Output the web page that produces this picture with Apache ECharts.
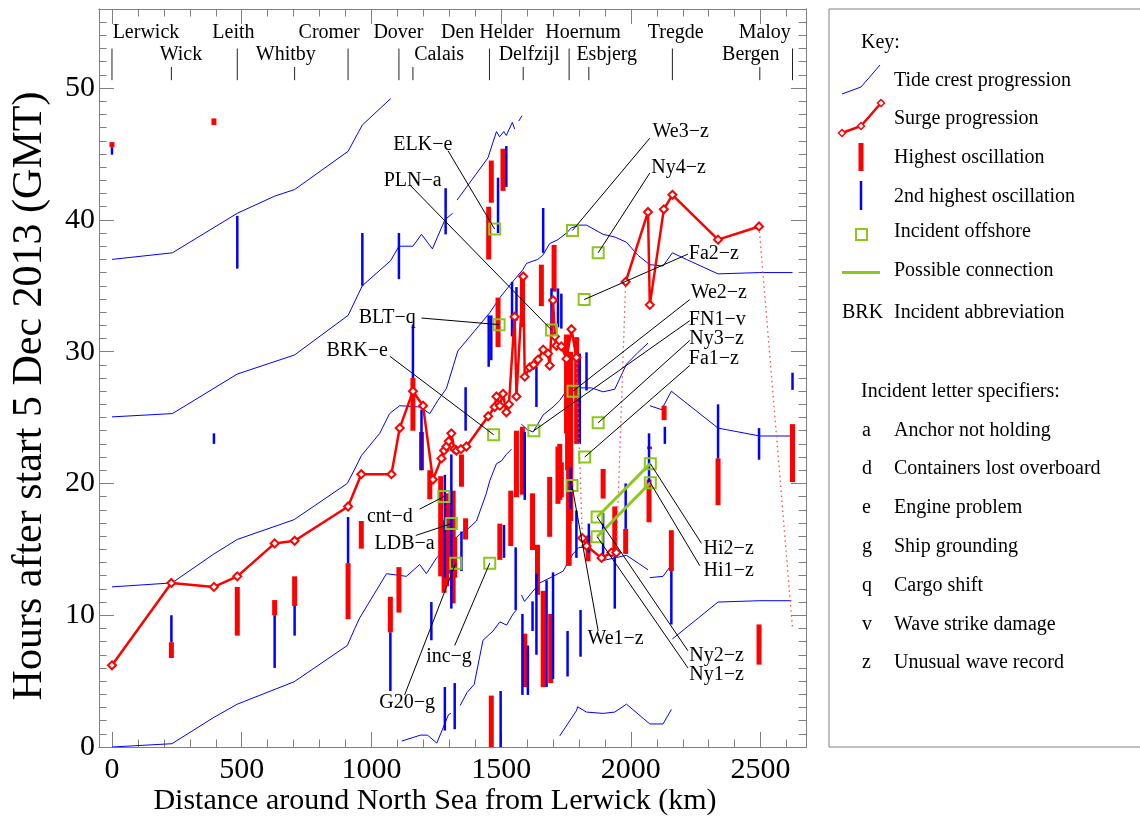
<!DOCTYPE html>
<html><head><meta charset="utf-8">
<script src="https://cdn.jsdelivr.net/npm/echarts@6/dist/echarts.min.js"></script>
<style>html,body{margin:0;padding:0;background:#fff}#c{width:1140px;height:822px}</style>
</head><body><div id="c"></div>
<script>
// ---------- axis tick labels ----------
const xTickLabels = [0, 500, 1000, 1500, 2000, 2500];
const yTickLabels = [0, 10, 20, 30, 40, 50];

// ---------- stations (km along coast) ----------
const stationNames   = ['Lerwick','Wick','Leith','Whitby','Cromer','Dover','Calais','Den Helder','Delfzijl','Hoernum','Esbjerg','Tregde','Bergen','Maloy'];
const stationKm      = [0,229,483,704,910,1106,1160,1455,1585,1762,1838,2160,2497,2623];
const stationRow     = [1,2,1,2,1,1,2,1,2,1,2,1,2,1];
const stationLabelKm = [131,266,468,670,837,1104,1261,1447,1608,1816,1907,2173,2462,2516];

// ---------- tide crest progression segments [km, hours] ----------
const tideT1  = [[0,37.0],[233,37.5],[483,40.5],[627,41.8],[704,42.3],[910,45.2],[965,47.2],[1074,49.2]];
const tideT2a = [[0,25.05],[233,25.3],[483,28.3],[704,29.75],[910,32.75],[965,35.0],[1074,36.9],[1106,38.0],[1160,38.0],[1193,38.9],[1235,37.8],[1283,40.0],[1313,40.5]];
const tideT2b = [[1330,41.5],[1449,44.7],[1482,46.7],[1494,46.3],[1510,46.7],[1520,46.4],[1543,47.4],[1552,46.9]];
const tideT2c = [[1568,47.5],[1580,47.9]];
const tideT3  = [[0,12.15],[231,12.45],[393,14.65],[483,15.75],[702,17.25],[907,20.0],[936,21.1],[961,22.1],[1032,23.8],[1070,25.3],[1109,25.9],[1186,25.8],[1225,25.3],[1256,26.3],[1289,27.2],[1333,30.05],[1456,32.95],[1495,34.1],[1540,35.2],[1583,36.2],[1598,36.7],[1641,37.0],[1660,37.3],[1687,38.2],[1719,38.5],[1752,39.0],[1771,39.4],[1803,39.6],[1829,39.6],[1893,38.9],[1938,38.7],[1983,38.3],[2028,37.3],[2073,36.6],[2124,36.5],[2160,37.5],[2214,37.0],[2336,35.9],[2497,36.0],[2623,36.0]];
const tideT4a = [[0,0],[231,0.25],[393,2.25],[483,3.25],[702,4.95],[907,7.7],[936,9.0],[955,9.8],[1058,13.15],[1135,12.95],[1186,13.85],[1212,13.15],[1251,14.35],[1289,15.05],[1340,16.15],[1372,16.55],[1405,17.15],[1443,19.25],[1456,20.2],[1482,21.5],[1501,21.7],[1520,22.2],[1540,22.6]];
const tideT4b = [[1578,24.5],[1600,24.1],[1623,23.9],[1662,25.2],[1700,25.8],[1726,26.3],[1752,27.05],[1777,27.25],[1848,27.25],[1893,26.95],[1938,27.15],[1983,29.05],[2028,29.95],[2066,30.65]];
const tideT4c = [[2073,25.9],[2118,25.6],[2156,27.0],[2336,24.2],[2497,23.6],[2619,23.6]];
const tideT5a = [[1117,0.45],[1189,0.9],[1216,0.9],[1252,0.3],[1297,2.45],[1306,2.55]];
const tideT5b = [[1342,3.15],[1369,4.15],[1396,4.75],[1430,8.1],[1469,8.8],[1495,9.5],[1521,9.25],[1546,10.1],[1559,10.4]];
const tideT5c = [[1578,11.55],[1590,11.05],[1649,12.45],[1700,12.95],[1739,13.35],[1777,14.65],[1800,15.15],[1842,15.15],[1893,14.15],[1938,14.35],[1983,14.55],[2066,13.45]];
const tideT5d = [[2073,12.85],[2124,12.95],[2150,13.65]];
const tideT5e = [[2160,8.2],[2336,11.0],[2497,11.1],[2619,11.1]];
const tideT6  = [[1726,0.85],[1790,2.75],[1795,3.05],[1829,2.65],[1893,2.55],[1938,2.65],[1983,3.25],[2073,1.75],[2124,1.75],[2156,2.85]];
const tideSegments = [tideT1,tideT2a,tideT2b,tideT2c,tideT3,tideT4a,tideT4b,tideT4c,tideT5a,tideT5b,tideT5c,tideT5d,tideT5e,tideT6];

// ---------- surge progression ----------
const surgeS1 = [[0,6.2],[229,12.45],[393,12.15],[483,12.95],[627,15.45],[704,15.65],[910,18.25],[961,20.7],[1077,20.7],[1109,24.2],[1160,27.0],[1199,25.9],[1237,20.3],[1270,21.9],[1280,22.5],[1289,22.8],[1298,23.2],[1308,23.8],[1320,22.6],[1328,22.5],[1345,22.6],[1366,22.8],[1450,25.1],[1475,25.8],[1482,26.6],[1495,25.9],[1507,26.8],[1520,25.4],[1530,26.0],[1552,32.65],[1559,26.6],[1585,35.7],[1591,28.1],[1610,28.8],[1625,29.0],[1642,29.4],[1662,30.15],[1681,29.85],[1687,28.95],[1700,33.9],[1707,31.15],[1713,30.45],[1732,30.4],[1752,29.45],[1771,31.7],[1790,29.55]];
const surgeS2 = [[1813,15.85],[1829,15.25],[1887,14.35],[1925,14.75],[1944,14.75]];
const surgeS3 = [[1980,35.3],[2066,40.6],[2073,33.55],[2127,40.8],[2160,41.9],[2336,38.5],[2494,39.5]];
const surgeGaps = [[[1790,29.55],[1813,15.85]],[[1944,14.75],[1980,35.3]],[[2494,39.5],[2623,9.0]]];

// ---------- oscillations [km, hour from, hour to] ----------
const highestOsc = [[0,45.5,45.9],[229,6.75,7.95],[393,47.2,47.7],[483,8.45,12.15],[627,10.0,11.15],[704,10.7,12.95],[910,9.7,13.95],[961,15.05,17.15],[1073,8.7,11.4],[1106,10.2,13.65],[1160,24.0,28.0],[1193,21.0,23.9],[1225,18.8,21.0],[1267,12.95,20.55],[1280,11.7,17.2],[1290,12.2,18.6],[1295,13.15,19.25],[1315,10.9,19.45],[1321,12.85,15.95],[1347,19.75,22.2],[1363,15.75,17.35],[1452,37.0,41.0],[1462,41.3,44.5],[1507,42.2,45.4],[1488,30.35,34.1],[1582,31.85,35.8],[1655,33.45,36.6],[1704,34.55,38.1],[1495,14.2,16.95],[1537,15.25,19.45],[1559,18.95,24.0],[1582,19.15,24.3],[1591,4.55,8.6],[1621,14.95,19.25],[1640,11.55,15.35],[1662,4.55,11.85],[1687,15.95,20.5],[1691,4.85,10.1],[1719,18.45,22.8],[1726,18.75,23.0],[1732,18.95,21.6],[1752,23.8,31.3],[1756,21.0,26.3],[1760,13.8,26.3],[1762,13.75,19.25],[1768,17.15,30.0],[1791,23.0,31.1],[1835,14.1,16.05],[1462,0,3.9],[1893,18.85,21.1],[1938,14.75,18.25],[1980,14.65,16.55],[2070,17.05,20.3],[2072,22.6,22.8],[2128,24.8,25.9],[2156,13.35,16.45],[2336,18.35,21.9],[2494,6.25,9.3],[2623,20.1,24.5]];
const secondOsc = [[0,44.95,45.5],[229,7.95,10.0],[393,23.0,23.8],[483,36.3,40.3],[627,6.0,10.0],[704,8.45,10.7],[910,13.95,17.45],[965,35.0,39.0],[1073,4.25,8.7],[1106,35.5,39.0],[1160,28.0,32.05],[1193,21.0,25.6],[1231,8.1,11.0],[1283,12.85,20.65],[1286,38.9,42.4],[1308,10.5,22.2],[1347,13.35,16.35],[1363,24.0,27.3],[1452,28.85,32.75],[1462,29.35,32.75],[1488,39.0,43.2],[1520,42.5,45.6],[1542,31.15,35.3],[1559,32.35,34.9],[1636,25.8,28.85],[1662,37.5,40.9],[1694,31.15,34.8],[1719,31.85,34.8],[1732,31.75,34.4],[1803,23.0,29.85],[1829,27.05,29.95],[1511,14.35,16.85],[1556,10.4,15.15],[1582,3.95,10.1],[1591,18.75,23.9],[1603,3.95,7.7],[1621,8.8,11.05],[1636,7.0,13.15],[1675,4.55,12.65],[1700,5.15,13.25],[1756,5.35,8.8],[1768,18.05,21.2],[1790,14.35,17.95],[1806,6.85,10.4],[1838,14.75,16.95],[1893,14.25,17.75],[1938,10.5,14.75],[1980,16.55,20.0],[2070,20.0,23.8],[2131,23.0,24.3],[2156,9.3,13.35],[2336,21.9,26.0],[2494,21.8,24.2],[2623,27.1,28.4],[1283,1.25,4.55],[1321,1.35,4.85],[1498,0,4.25]];

// ---------- incidents ----------
const incNames = ['ELK−e','PLN−a','BLT−q','BRK−e','We3−z','Ny4−z','Fa2−z','We2−z','FN1−v','Ny3−z','Fa1−z','cnt−d','LDB−a','G20−g','inc−g','We1−z','Ny2−z','Ny1−z','Hi2−z','Hi1−z'];
const incSites = [[1475,39.3],[1694,31.65],[1492,32.05],[1471,23.7],[1775,39.2],[1874,37.5],[1820,33.95],[1777,27.0],[1626,24.0],[1874,24.6],[1822,22.0],[1279,19.0],[1308,16.95],[1325,13.95],[1456,13.95],[1773,19.85],[1870,17.45],[1870,15.95],[2075,21.5],[2075,20.05]];
const incLabelAt = [[1198,45.7],[1159,42.95],[1061,32.55],[945,30.05],[2192,46.7],[2184,43.95],[2320,37.4],[2339,34.45],[2333,32.45],[2330,30.95],[2320,29.45],[1071,17.45],[1128,15.45],[1138,3.35],[1299,6.85],[1941,8.2],[2330,6.9],[2330,5.45],[2377,15.05],[2377,13.35]];
const incLeadFrom = [[1295,45.25],[1148,42.65],[1193,32.55],[1071,29.65],[2073,46.2],[2073,43.55],[2220,37.4],[2227,33.95],[2227,32.35],[2227,30.85],[2227,28.95],[1186,18.05],[1171,16.05],[1128,3.95],[1321,7.7],[1874,8.8],[2220,7.3],[2220,6.0],[2272,15.45],[2266,13.75]];
const connections = [[1870,17.45,2075,21.5],[1870,15.95,2075,20.05]];

// ---------- texts ----------
const xTitle = 'Distance around North Sea from Lerwick (km)';
const yTitle = 'Hours after start 5 Dec 2013 (GMT)';
const keyItems = ['Tide crest progression','Surge progression','Highest oscillation','2nd highest oscillation','Incident offshore','Possible connection','Incident abbreviation'];
const specLetters = ['a','d','e','g','q','v','z'];
const specTexts = ['Anchor not holding','Containers lost overboard','Engine problem','Ship grounding','Cargo shift','Wave strike damage','Unusual wave record'];

// ================= build =================
const F = '"Liberation Serif","Times New Roman",serif';
const GF = '"Liberation Serif"';
const AX = '#808080';
const BLUE = '#0000ff', RED = '#ff0000', GREEN = '#8cc81a';
const X_MIN = -50, X_MAX = 2675, Y_MIN = 0, Y_MAX = 56;

const xMinor = []; for (let v = 0; v <= 2600; v += 100) if (v % 500) xMinor.push(v);
const yMinor = []; for (let v = 1; v <= 56; v++) if (v % 10) yMinor.push(v);

function xAx(pos, major, withLabel) {
  return {
    type:'value', min:X_MIN, max:X_MAX, position:pos,
    axisLine:{show:true, onZero:false, lineStyle:{color:AX, width:1}},
    axisTick:{show:true, inside:true, length: major ? 15 : 7.5, customValues: major ? xTickLabels : xMinor, lineStyle:{color:AX, width:1}},
    axisLabel:{show:!!withLabel, customValues:xTickLabels, formatter:v => String(v), fontSize:30, fontFamily:F, color:'#000', margin:8},
    splitLine:{show:false}
  };
}
function yAx(pos, major, withLabel) {
  return {
    type:'value', min:Y_MIN, max:Y_MAX, position:pos,
    axisLine:{show:true, onZero:false, lineStyle:{color:AX, width:1}},
    axisTick:{show:true, inside:true, length: major ? 15 : 7.5, customValues: major ? yTickLabels : yMinor, lineStyle:{color:AX, width:1}},
    axisLabel:{show:!!withLabel, customValues:yTickLabels, formatter:v => String(v), fontSize:30, fontFamily:F, color:'#000', margin:4},
    splitLine:{show:false}
  };
}

function vbar(color, width) {
  return function (params, api) {
    const a = api.coord([api.value(0), api.value(1)]);
    const b = api.coord([api.value(0), api.value(2)]);
    return {type:'line', shape:{x1:a[0], y1:a[1], x2:b[0], y2:b[1]}, style:{stroke:color, lineWidth:width}};
  };
}
function seg(color, width) {
  return function (params, api) {
    const a = api.coord([api.value(0), api.value(1)]);
    const b = api.coord([api.value(2), api.value(3)]);
    return {type:'line', shape:{x1:a[0], y1:a[1], x2:b[0], y2:b[1]}, style:{stroke:color, lineWidth:width}};
  };
}
const LBL = {show:true, position:'inside', formatter:'{b}', fontSize:20, fontFamily:F, color:'#000', opacity:1, textBorderWidth:0, textBorderColor:'transparent'};

const series = [];
tideSegments.forEach(s => series.push({type:'line', data:s, showSymbol:false, symbol:'none', lineStyle:{color:BLUE, width:1}, silent:true, z:2}));
series.push({type:'custom', renderItem:vbar(RED,5), data:highestOsc, encode:{x:0, y:[1,2]}, silent:true, z:3});
series.push({type:'custom', renderItem:vbar(BLUE,2.5), data:secondOsc, encode:{x:0, y:[1,2]}, silent:true, z:4});
surgeGaps.forEach(s => series.push({type:'line', data:s, symbol:'none', lineStyle:{color:'#ff4a4a', width:1.3, type:[1.5,3.5]}, silent:true, z:5}));
[surgeS1, surgeS2, surgeS3].forEach(s => series.push({type:'line', data:s, symbol:'diamond', symbolSize:8, showSymbol:true,
  itemStyle:{color:'#ffffff', borderColor:RED, borderWidth:2}, lineStyle:{color:RED, width:2.5}, silent:true, z:6}));
// station tick lines and labels
const stationLines = stationKm.map((k,i) => [k, 50.6, stationRow[i] === 1 ? 53.0 : 51.6]);
series.push({type:'custom', renderItem:vbar('#222',1), data:stationLines, encode:{x:0, y:[1,2]}, silent:true, z:6});
series.push({type:'scatter', symbolSize:0, silent:true, z:7, itemStyle:{opacity:1},
  data: stationNames.map((n,i) => ({name:n, value:[stationLabelKm[i], stationRow[i] === 1 ? 54.2 : 52.5]})),
  label:LBL});
// incidents
series.push({type:'custom', renderItem:seg(GREEN,3), data:connections, encode:{x:[0,2], y:[1,3]}, silent:true, z:7});
series.push({type:'scatter', data:incSites, symbol:'rect', symbolSize:11, itemStyle:{color:'rgba(0,0,0,0)', borderColor:GREEN, borderWidth:2, opacity:1}, silent:true, z:8});
series.push({type:'custom', renderItem:seg('#000',1), data:incLeadFrom.map((p,i) => [p[0], p[1], incSites[i][0], incSites[i][1]]), encode:{x:[0,2], y:[1,3]}, silent:true, z:9});
series.push({type:'scatter', symbolSize:0, silent:true, z:10, itemStyle:{opacity:1},
  data: incNames.map((n,i) => ({name:n, value:incLabelAt[i]})),
  label:LBL});

// titles + legend graphic
const g = [];
const T = (x, y, t, size) => ({type:'text', x:x, y:y, style:{text:t, font:(size || 20) + 'px ' + GF, fill:'#000', verticalAlign:'middle', align:'left'}});
g.push({type:'text', x:435, y:801, style:{text:xTitle, font:'30px ' + GF, fill:'#000', align:'center', verticalAlign:'middle'}});
g.push({type:'text', x:30, y:396, rotation:Math.PI/2, style:{text:yTitle, font:'42px ' + GF, fill:'#000', align:'center', verticalAlign:'middle'}});
g.push({type:'rect', shape:{x:829, y:9, width:400, height:738}, style:{fill:'none', stroke:AX, lineWidth:1}});
g.push(T(861, 43, 'Key:'));
const ky = [81, 119, 158, 197, 232, 271, 313];
keyItems.forEach((t,i) => g.push(T(894, ky[i], t)));
g.push({type:'polyline', shape:{points:[[842,94],[861,87],[880,65]]}, style:{stroke:BLUE, lineWidth:1, fill:null}});
const sp = [[842,133],[861,126],[881,103]];
g.push({type:'polyline', shape:{points:sp}, style:{stroke:RED, lineWidth:2.5, fill:null}});
sp.forEach(p => g.push({type:'polygon', shape:{points:[[p[0],p[1]-3.5],[p[0]+3.5,p[1]],[p[0],p[1]+3.5],[p[0]-3.5,p[1]]]}, style:{fill:'#fff', stroke:RED, lineWidth:1.5}}));
g.push({type:'line', shape:{x1:861, y1:143, x2:861, y2:171}, style:{stroke:RED, lineWidth:5}});
g.push({type:'line', shape:{x1:861, y1:181, x2:861, y2:210}, style:{stroke:BLUE, lineWidth:2.5}});
g.push({type:'rect', shape:{x:856, y:229, width:11, height:11}, style:{fill:'none', stroke:GREEN, lineWidth:2}});
g.push({type:'line', shape:{x1:842, y1:272.5, x2:880, y2:272.5}, style:{stroke:GREEN, lineWidth:3}});
g.push(T(842, 313, 'BRK'));
g.push(T(861, 392, 'Incident letter specifiers:'));
const sy = [431, 469, 508, 547, 586, 625, 663];
specLetters.forEach((l,i) => { g.push(T(862, sy[i], l)); g.push(T(894, sy[i], specTexts[i])); });

const chart = echarts.init(document.getElementById('c'), null, {renderer:'canvas'});
chart.setOption({
  animation:false,
  backgroundColor:'#fff',
  grid:{left:99, right:334, top:9, bottom:75, containLabel:false},
  xAxis:[xAx('bottom',true,true), xAx('bottom',false,false), xAx('top',true,false), xAx('top',false,false)],
  yAxis:[yAx('left',true,true), yAx('left',false,false), yAx('right',true,false), yAx('right',false,false)],
  series: series,
  graphic: g
});
</script></body></html>
